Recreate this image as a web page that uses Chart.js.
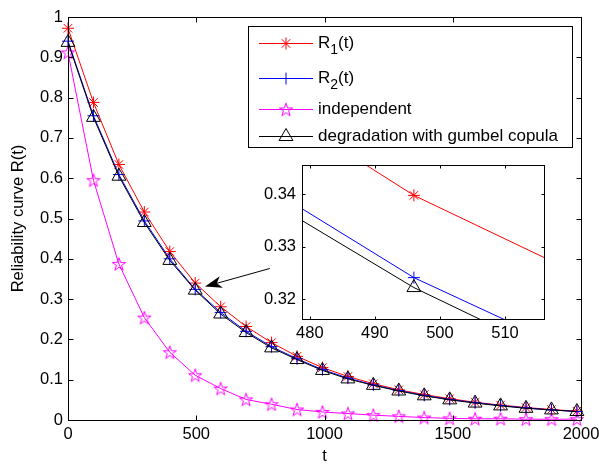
<!DOCTYPE html>
<html>
<head>
<meta charset="utf-8">
<script src="https://cdn.jsdelivr.net/npm/chart.js@4.4.1/dist/chart.umd.min.js"></script>
<style>
  html, body { margin: 0; padding: 0; background: #fff; }
  #wrap { position: relative; width: 599px; height: 465px; }
  #mainChart { position: absolute; left: 0; top: 0; }
  #insetChart { position: absolute; left: 262px; top: 160px; }
</style>
</head>
<body>
<div id="wrap">
  <canvas id="mainChart" width="599" height="465"></canvas>
  <canvas id="insetChart" width="290" height="190"></canvas>
</div>
<script>
// time points (markers) and the four reliability curves
const t = [0, 99.2, 198.4, 297.6, 396.8, 496, 595.2, 694.4, 793.6, 892.8, 992,
           1091.2, 1190.4, 1289.6, 1388.8, 1488, 1587.2, 1686.4, 1785.6, 1884.8, 1984];
const r1 = [0.972, 0.788, 0.634, 0.516, 0.418, 0.3398, 0.281, 0.232, 0.192, 0.158, 0.130,
            0.108, 0.090, 0.075, 0.063, 0.053, 0.044, 0.037, 0.031, 0.026, 0.022];
const r2 = [0.940, 0.755, 0.609, 0.494, 0.400, 0.3241, 0.267, 0.220, 0.182, 0.152, 0.125,
            0.104, 0.087, 0.073, 0.061, 0.051, 0.043, 0.036, 0.030, 0.025, 0.021];
const independent = [0.912, 0.595, 0.387, 0.254, 0.168, 0.111, 0.078, 0.051, 0.039, 0.026, 0.020,
                     0.016, 0.012, 0.009, 0.006, 0.004, 0.003, 0.003, 0.002, 0.002, 0.002];
const gumbel = [0.937, 0.751, 0.605, 0.490, 0.396, 0.3222, 0.263, 0.217, 0.179, 0.150, 0.123,
                0.102, 0.086, 0.072, 0.060, 0.050, 0.042, 0.035, 0.029, 0.025, 0.021];

const xTicks = [0, 500, 1000, 1500, 2000];
const yTicks = [0, 0.1, 0.2, 0.3, 0.4, 0.5, 0.6, 0.7, 0.8, 0.9, 1];
const insetXTicks = [480, 490, 500, 510];
const insetYTicks = [0.32, 0.33, 0.34];

const FONT = '"Liberation Sans", Arial, Helvetica, sans-serif';
Chart.defaults.font.family = FONT;
Chart.defaults.color = '#000';

// MATLAB style pentagram marker
function pentagram(color) {
    const c = document.createElement('canvas');
    c.width = 16; c.height = 16;
    const g = c.getContext('2d');
    g.strokeStyle = color;
    g.lineWidth = 1;
    g.beginPath();
    for (let i = 0; i < 10; i++) {
        const r = i % 2 ? 2.7 : 7;
        const a = -Math.PI / 2 + i * Math.PI / 5;
        const px = 8 + r * Math.cos(a), py = 8.6 + r * Math.sin(a);
        if (i === 0) g.moveTo(px, py); else g.lineTo(px, py);
    }
    g.closePath();
    g.stroke();
    return c;
}

const series = [
    { name: ['R', '1', '(t)'], values: r1, color: '#ff0000', marker: 'star', size: 6, order: 3 },
    { name: ['R', '2', '(t)'], values: r2, color: '#0000ff', marker: 'cross', size: 6, order: 2 },
    { name: ['independent'], values: independent, color: '#ff00ff', marker: pentagram('#ff00ff'), size: 6, order: 1 },
    { name: ['degradation with gumbel copula'], values: gumbel, color: '#000000', marker: 'triangle', size: 8, order: 0 }
];

function makeDatasets(clip) {
    return series.map(s => ({
        data: t.map((x, i) => ({ x: x, y: s.values[i] })),
        borderColor: s.color,
        borderWidth: 1,
        tension: 0,
        pointStyle: s.marker,
        pointRadius: s.size,
        pointBorderColor: s.color,
        pointBackgroundColor: 'rgba(0,0,0,0)',
        pointBorderWidth: 1,
        order: s.order,
        clip: clip
    }));
}

// box around the axes with inward ticks on all four sides
const boxAxes = {
    id: 'boxAxes',
    beforeDraw(chart, args, opts) {
        if (!opts.fill) return;
        const a = chart.chartArea;
        chart.ctx.save();
        chart.ctx.fillStyle = '#fff';
        chart.ctx.fillRect(a.left, a.top, a.right - a.left, a.bottom - a.top);
        chart.ctx.restore();
    },
    afterDatasetsDraw(chart, args, opts) {
        const { ctx, chartArea: a, scales: { x, y } } = chart;
        const len = opts.tickLength;
        const L = Math.round(a.left) + 0.5, R = Math.round(a.right) + 0.5;
        const T = Math.round(a.top) + 0.5, B = Math.round(a.bottom) + 0.5;
        ctx.save();
        ctx.strokeStyle = '#000';
        ctx.lineWidth = 1;
        ctx.beginPath();
        x.ticks.forEach(tk => {
            const px = Math.round(x.getPixelForValue(tk.value)) + 0.5;
            ctx.moveTo(px, B); ctx.lineTo(px, B - len);
            ctx.moveTo(px, T); ctx.lineTo(px, T + len);
        });
        y.ticks.forEach(tk => {
            const py = Math.round(y.getPixelForValue(tk.value)) + 0.5;
            ctx.moveTo(L, py); ctx.lineTo(L + len, py);
            ctx.moveTo(R, py); ctx.lineTo(R - len, py);
        });
        ctx.stroke();
        ctx.strokeRect(L, T, R - L, B - T);
        ctx.restore();
    }
};

const arrowPlugin = {
    id: 'arrow',
    afterDraw(chart, args, opts) {
        const { ctx, scales: { x, y } } = chart;
        const x1 = x.getPixelForValue(opts.from[0]), y1 = y.getPixelForValue(opts.from[1]);
        const x2 = x.getPixelForValue(opts.to[0]), y2 = y.getPixelForValue(opts.to[1]);
        const ang = Math.atan2(y2 - y1, x2 - x1);
        const len = 17, w = 6;
        ctx.save();
        ctx.strokeStyle = '#000';
        ctx.fillStyle = '#000';
        ctx.lineWidth = 1;
        ctx.beginPath();
        ctx.moveTo(x1, y1);
        ctx.lineTo(x2 - Math.cos(ang) * len * 0.7, y2 - Math.sin(ang) * len * 0.7);
        ctx.stroke();
        ctx.translate(x2, y2);
        ctx.rotate(ang);
        ctx.beginPath();
        ctx.moveTo(0, 0);
        ctx.lineTo(-len, -w);
        ctx.lineTo(-len * 0.72, 0);
        ctx.lineTo(-len, w);
        ctx.closePath();
        ctx.fill();
        ctx.restore();
    }
};

// legend box drawn MATLAB style (line sample with marker, subscripts)
const matlabLegend = {
    id: 'matlabLegend',
    afterDraw(chart, args, opts) {
        const ctx = chart.ctx;
        const box = opts.box;
        ctx.save();
        ctx.fillStyle = '#fff';
        ctx.fillRect(box.left, box.top, box.right - box.left, box.bottom - box.top);
        ctx.strokeStyle = '#000';
        ctx.lineWidth = 1;
        ctx.strokeRect(box.left + 0.5, box.top + 0.5, box.right - box.left, box.bottom - box.top);
        series.forEach((s, i) => {
            const ry = opts.rows[i];
            ctx.strokeStyle = s.color;
            ctx.fillStyle = 'rgba(0,0,0,0)';
            ctx.lineWidth = 1;
            ctx.beginPath();
            ctx.moveTo(opts.lineStart, ry + 0.5);
            ctx.lineTo(opts.lineEnd, ry + 0.5);
            ctx.stroke();
            Chart.helpers.drawPoint(ctx, {
                pointStyle: s.marker, radius: s.size, rotation: 0, borderWidth: 1
            }, (opts.lineStart + opts.lineEnd) / 2, ry + 0.5);
            ctx.fillStyle = '#000';
            ctx.textBaseline = 'middle';
            ctx.textAlign = 'left';
            let tx = opts.textX;
            s.name.forEach((part, k) => {
                const sub = s.name.length === 3 && k === 1;
                ctx.font = (sub ? '14px ' : '17px ') + FONT;
                ctx.fillText(part, tx, ry + (sub ? 7 : 0));
                tx += ctx.measureText(part).width;
            });
        });
        ctx.restore();
    }
};

function axisOptions(ticksArr, min, max, pad, title) {
    return {
        type: 'linear',
        min: min,
        max: max,
        afterBuildTicks: s => { s.ticks = ticksArr.map(v => ({ value: v })); },
        grid: { display: false, drawTicks: false },
        border: { display: false },
        ticks: {
            padding: pad, autoSkip: false, maxRotation: 0, color: '#000',
            font: { size: 16.5 }, callback: v => String(v)
        },
        title: title
    };
}

// fix axis box sizes so the plot area lands where the figure has it
function fixHeight(h) {
    return s => { s.height = h; s.paddingLeft = 0; s.paddingRight = 0; };
}
function fixWidth(w) {
    return s => { s.width = w; s.paddingTop = 0; s.paddingBottom = 0; };
}

const mainX = axisOptions(xTicks, 0, 2000, 5,
    { display: true, text: 't', font: { size: 16.5, lineHeight: 1 }, padding: { top: 0, bottom: 0 } });
mainX.afterFit = fixHeight(45);
const mainY = axisOptions(yTicks, 0, 1, 5,
    { display: true, text: 'Reliability curve R(t)', font: { size: 16.5, lineHeight: 1 }, padding: { top: 10, bottom: 0 } });
mainY.afterFit = fixWidth(68);

const mainChart = new Chart(document.getElementById('mainChart'), {
    type: 'line',
    data: { datasets: makeDatasets(false) },
    options: {
        responsive: false,
        animation: false,
        devicePixelRatio: 1,
        layout: { autoPadding: false, padding: { top: 17, right: 18, left: 0, bottom: 0 } },
        plugins: {
            legend: { display: false },
            tooltip: { enabled: false },
            boxAxes: { tickLength: 5, fill: false },
            arrow: { from: [787, 0.376], to: [534, 0.331] },
            matlabLegend: {
                box: { left: 248, top: 26, right: 572, bottom: 147 },
                rows: [43, 78, 109, 136],
                lineStart: 259, lineEnd: 313, textX: 318
            }
        },
        scales: { x: mainX, y: mainY }
    },
    plugins: [boxAxes, arrowPlugin, matlabLegend]
});

const insetX = axisOptions(insetXTicks, 478.8, 516, 5, { display: false });
insetX.afterFit = fixHeight(31);
const insetY = axisOptions(insetYTicks, 0.3162, 0.3456, 6, { display: false });
insetY.afterFit = fixWidth(40);

const insetChart = new Chart(document.getElementById('insetChart'), {
    type: 'line',
    data: { datasets: makeDatasets(true) },
    options: {
        responsive: false,
        animation: false,
        devicePixelRatio: 1,
        layout: { autoPadding: false, padding: { top: 5, right: 8, left: 0, bottom: 0 } },
        plugins: {
            legend: { display: false },
            tooltip: { enabled: false },
            boxAxes: { tickLength: 3, fill: true }
        },
        scales: { x: insetX, y: insetY }
    },
    plugins: [boxAxes]
});
</script>
</body>
</html>
